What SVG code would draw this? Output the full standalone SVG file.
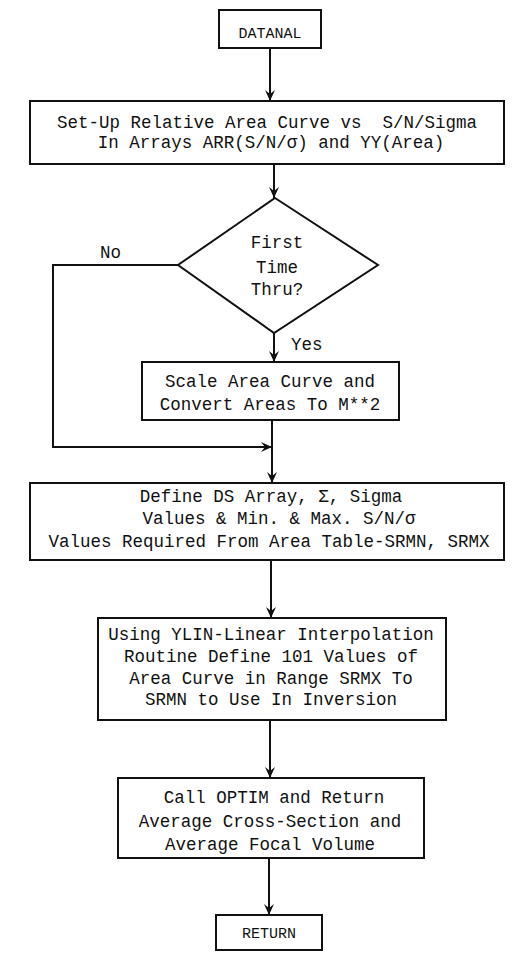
<svg xmlns="http://www.w3.org/2000/svg" width="519" height="956" viewBox="0 0 519 956">
  <style>
    .box { fill: #fff; stroke: #111; stroke-width: 2; }
    .conn { fill: none; stroke: #111; stroke-width: 2; }
    text { font-family: "Liberation Mono", "Courier New", monospace; font-size: 17.5px; fill: #111; text-anchor: middle; }
    .small { font-size: 15px; }
    .lbl { text-anchor: start; }
  </style>
  <defs>
    <marker id="arrow" viewBox="0 0 12 12" refX="11" refY="6" markerWidth="12" markerHeight="12" markerUnits="userSpaceOnUse" orient="auto">
      <path d="M0,1 L11,6 L0,11 L4,6 z" fill="#111"/>
    </marker>
  </defs>

  <!-- connectors -->
  <g id="connectors">
    <line class="conn" x1="270" y1="48" x2="270" y2="101" marker-end="url(#arrow)"/>
    <line class="conn" x1="274" y1="164" x2="274" y2="198" marker-end="url(#arrow)"/>
    <line class="conn" x1="274" y1="333" x2="274" y2="362" marker-end="url(#arrow)"/>
    <polyline class="conn" points="178,265 53,265 53,447 272,447" marker-end="url(#arrow)"/>
    <line class="conn" x1="272" y1="420" x2="272" y2="483" marker-end="url(#arrow)"/>
    <line class="conn" x1="271" y1="560" x2="271" y2="618" marker-end="url(#arrow)"/>
    <line class="conn" x1="270" y1="720" x2="270" y2="778" marker-end="url(#arrow)"/>
    <line class="conn" x1="269" y1="858" x2="269" y2="915" marker-end="url(#arrow)"/>
    <text class="lbl" x="100" y="258">No</text>
    <text class="lbl" x="291" y="350">Yes</text>
  </g>

  <g id="datanal">
    <rect class="box" x="219" y="10" width="102" height="38"/>
    <text class="small" x="270" y="38">DATANAL</text>
  </g>

  <g id="setup">
    <rect class="box" x="30" y="101" width="474" height="63"/>
    <text x="267" y="128" xml:space="preserve">Set-Up Relative Area Curve vs  S/N/Sigma</text>
    <text x="271" y="148">In Arrays ARR(S/N/σ) and YY(Area)</text>
  </g>

  <g id="first-time">
    <polygon class="box" points="275,198 378,265 274,333 178,265"/>
    <text x="277" y="248">First</text>
    <text x="277" y="273">Time</text>
    <text x="277" y="295">Thru?</text>
  </g>

  <g id="scale">
    <rect class="box" x="142" y="362" width="257" height="58"/>
    <text x="270" y="387">Scale Area Curve and</text>
    <text x="270" y="410">Convert Areas To M**2</text>
  </g>

  <g id="define">
    <rect class="box" x="30" y="483" width="474" height="77"/>
    <text x="271" y="502">Define DS Array, Σ, Sigma</text>
    <text x="279" y="524">Values &amp; Min. &amp; Max. S/N/σ</text>
    <text x="269" y="547">Values Required From Area Table-SRMN, SRMX</text>
  </g>

  <g id="ylin">
    <rect class="box" x="98" y="618" width="348" height="102"/>
    <text x="271" y="640">Using YLIN-Linear Interpolation</text>
    <text x="271" y="662">Routine Define 101 Values of</text>
    <text x="271" y="684">Area Curve in Range SRMX To</text>
    <text x="271" y="705">SRMN to Use In Inversion</text>
  </g>

  <g id="optim">
    <rect class="box" x="118" y="778" width="306" height="80"/>
    <text x="274" y="803">Call OPTIM and Return</text>
    <text x="270" y="827">Average Cross-Section and</text>
    <text x="270" y="850">Average Focal Volume</text>
  </g>

  <g id="return">
    <rect class="box" x="216" y="915" width="106" height="35"/>
    <text class="small" x="269" y="938">RETURN</text>
  </g>
</svg>
